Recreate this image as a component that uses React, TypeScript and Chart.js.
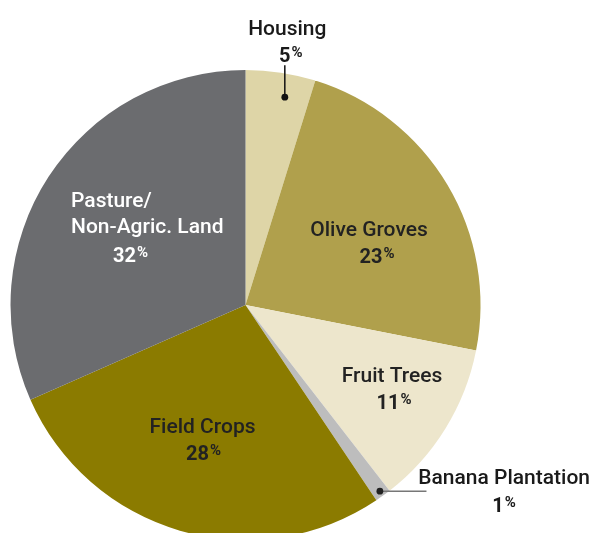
import { useEffect, useRef } from "react";
import { Chart, registerables } from "chart.js";

Chart.register(...registerables);

// ---- data ----
const categories = ["Housing", "Olive Groves", "Fruit Trees", "Banana Plantation", "Field Crops", "Pasture/\nNon-Agric. Land"];
const shares = [4.8, 23.3, 11.4, 1.1, 27.8, 31.6];
const percentLabels = ["5", "23", "11", "1", "28", "32"];
const sliceColors = ["#ded5a7", "#b0a04c", "#ede6cc", "#bdbdbd", "#8b7b00", "#6b6c6f"];

const FONT = "Roboto, 'Open Sans', sans-serif";

type LabelCfg = {
  kind: "inside" | "top" | "right";
  a: number; // fraction along slice angle
  r: number; // fraction of radius
  color: string;
  numDx?: number;
  align?: "left" | "center";
};

const labelCfg: LabelCfg[] = [
  { kind: "top", a: 0.62, r: 0.9, color: "#1a1a1a" },
  { kind: "inside", a: 0.576, r: 0.577, color: "#222222", numDx: 8 },
  { kind: "inside", a: 0.5, r: 0.733, color: "#222222", numDx: 2 },
  { kind: "right", a: 0.5, r: 0.977, color: "#1a1a1a" },
  { kind: "inside", a: 0.507, r: 0.629, color: "#222222", numDx: 1 },
  { kind: "inside", a: 0.515, r: 0.526, color: "#ffffff", align: "left" },
];

function drawNumber(ctx: CanvasRenderingContext2D, txt: string, cx: number, baseline: number, color: string, leftX?: number) {
  ctx.fillStyle = color;
  ctx.font = `700 20px ${FONT}`;
  const wd = ctx.measureText(txt).width;
  ctx.font = `700 15px ${FONT}`;
  const wp = ctx.measureText("%").width;
  const x0 = leftX !== undefined ? leftX : cx - (wd + wp + 1) / 2;
  ctx.textAlign = "left";
  ctx.font = `700 20px ${FONT}`;
  ctx.fillText(txt, x0, baseline);
  ctx.font = `700 15px ${FONT}`;
  ctx.fillText("%", x0 + wd + 1, baseline - 5);
}

const labelPlugin = {
  id: "sliceLabels",
  afterDatasetsDraw(chart: any) {
    const ctx: CanvasRenderingContext2D = chart.ctx;
    const meta = chart.getDatasetMeta(0);
    ctx.save();
    ctx.textBaseline = "alphabetic";
    const nameFont = `500 21px ${FONT}`;
    meta.data.forEach((arc: any, i: number) => {
      const p = arc.getProps(["x", "y", "startAngle", "endAngle", "outerRadius"], true);
      const cfg = labelCfg[i];
      const ang = p.startAngle + (p.endAngle - p.startAngle) * cfg.a;
      const px = p.x + Math.cos(ang) * p.outerRadius * cfg.r;
      const py = p.y + Math.sin(ang) * p.outerRadius * cfg.r;
      const lines = categories[i].split("\n");
      ctx.fillStyle = cfg.color;
      if (cfg.kind === "inside") {
        if (cfg.align === "left") {
          ctx.font = nameFont;
          ctx.textAlign = "left";
          ctx.fillText(lines[0], px - 73, py - 27.5);
          ctx.fillText(lines[1], px - 73, py - 1.5);
          drawNumber(ctx, percentLabels[i], px, py + 27.5, cfg.color, px - 31);
        } else {
          ctx.font = nameFont;
          ctx.textAlign = "center";
          ctx.fillText(lines[0], px, py - 13.3);
          drawNumber(ctx, percentLabels[i], px + (cfg.numDx || 0), py + 13.8, cfg.color);
        }
      } else if (cfg.kind === "top") {
        ctx.strokeStyle = "#111111";
        ctx.lineWidth = 1.5;
        ctx.beginPath();
        ctx.moveTo(px, py);
        ctx.lineTo(px, py - 32);
        ctx.stroke();
        ctx.fillStyle = "#111111";
        ctx.beginPath();
        ctx.arc(px, py, 3.4, 0, Math.PI * 2);
        ctx.fill();
        ctx.fillStyle = cfg.color;
        ctx.font = nameFont;
        ctx.textAlign = "center";
        ctx.fillText(lines[0], px + 2.5, py - 62);
        drawNumber(ctx, percentLabels[i], px + 6, py - 35.3, cfg.color);
      } else {
        ctx.strokeStyle = "#777777";
        ctx.lineWidth = 1.5;
        ctx.beginPath();
        ctx.moveTo(px, py);
        ctx.lineTo(px + 46.6, py);
        ctx.stroke();
        ctx.fillStyle = "#222222";
        ctx.beginPath();
        ctx.arc(px, py, 3.4, 0, Math.PI * 2);
        ctx.fill();
        ctx.fillStyle = cfg.color;
        ctx.font = nameFont;
        ctx.textAlign = "left";
        ctx.fillText(lines[0], px + 38.3, py - 6.7);
        const nameW = ctx.measureText(lines[0]).width;
        drawNumber(ctx, percentLabels[i], px + 38.3 + nameW / 2, py + 21, cfg.color);
      }
    });
    ctx.restore();
  },
};

export default function App() {
  const ref = useRef<HTMLCanvasElement | null>(null);
  useEffect(() => {
    if (!ref.current) return;
    const chart = new Chart(ref.current, {
      type: "pie",
      data: {
        labels: categories.map((c) => c.replace("\n", " ")),
        datasets: [
          {
            data: shares,
            backgroundColor: sliceColors,
            borderWidth: 0,
          },
        ],
      },
      options: {
        responsive: false,
        animation: false,
        layout: { padding: { left: 10.5, top: 70, right: 114.5, bottom: 80 } },
        plugins: {
          legend: { display: false },
          tooltip: { enabled: false },
        },
      },
      plugins: [labelPlugin],
    });
    return () => chart.destroy();
  }, []);
  return (
    <div style={{ position: "fixed", left: 0, top: 0, width: 595, height: 533, overflow: "hidden", background: "#ffffff" }}>
      <canvas ref={ref} width={595} height={620} style={{ display: "block" }} />
    </div>
  );
}
